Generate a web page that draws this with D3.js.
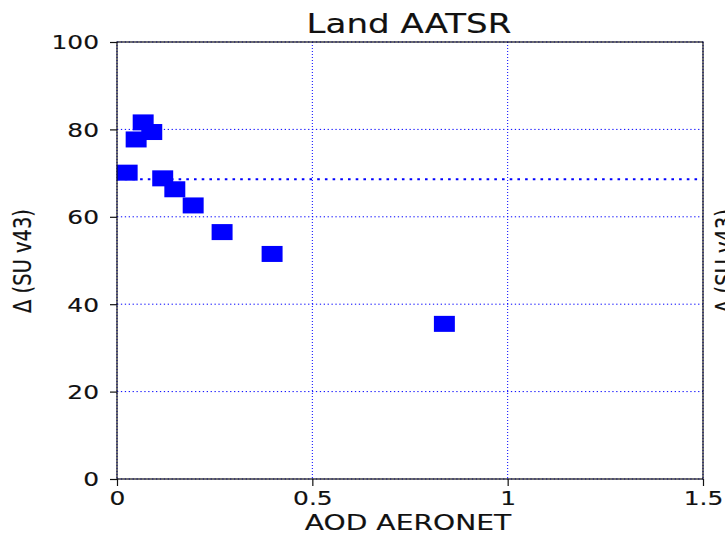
<!DOCTYPE html>
<html>
<head>
<meta charset="utf-8">
<script src="https://cdn.jsdelivr.net/npm/d3@7"></script>
<style>
  html, body { margin: 0; padding: 0; background: #fff; }
  svg { display: block; }
  text { font-family: "DejaVu Sans", sans-serif; fill: #111; stroke: #111; stroke-width: 0.15px; }
</style>
</head>
<body>
<svg id="chart" width="725" height="534"></svg>
<script>
// AOD from AERONET and the corresponding Δ values (SU v43)
const aod   = [0.026, 0.049, 0.067, 0.089, 0.117, 0.148, 0.195, 0.269, 0.397, 0.838];
const delta = [70.1, 77.7, 81.6, 79.4, 68.8, 66.3, 62.6, 56.5, 51.5, 35.5];
// Horizontal reference level
const refLevel = 68.6;
// Axis ticks
const xTicks = [0, 0.5, 1, 1.5];
const xTickLabels = ["0", "0.5", "1", "1.5"];
const yTicks = [0, 20, 40, 60, 80, 100];
const yTickLabels = ["0", "20", "40", "60", "80", "100"];

const title = "Land AATSR";
const xLabel = "AOD AERONET";
const yLabel = "Δ (SU v43)";

// Horizontal stretch applied to glyphs and markers
const SX = 1.31;

const svg = d3.select("#chart");
const plotL = 117, plotR = 703, plotT = 42, plotB = 479;

const x = d3.scaleLinear().domain([0, 1.5]).range([plotL, plotR]);
const y = d3.scaleLinear().domain([0, 100]).range([plotB, plotT]);

// Grid lines
const grid = svg.append("g");
grid.selectAll("line.gx").data(xTicks).join("line")
  .attr("x1", d => x(d)).attr("x2", d => x(d))
  .attr("y1", plotT).attr("y2", plotB)
  .attr("stroke", "#0000ff").attr("stroke-width", 1)
  .attr("stroke-dasharray", "1,2");
grid.selectAll("line.gy").data(yTicks).join("line")
  .attr("x1", plotL).attr("x2", plotR)
  .attr("y1", d => y(d)).attr("y2", d => y(d))
  .attr("stroke", "#0000ff").attr("stroke-width", 1)
  .attr("stroke-dasharray", "1.3,2.6");

// Reference level
svg.append("line")
  .attr("x1", plotL).attr("x2", plotR)
  .attr("y1", y(refLevel)).attr("y2", y(refLevel))
  .attr("stroke", "#0000ff").attr("stroke-width", 2)
  .attr("stroke-dasharray", "2.6,5.1");

// Square markers
const mw = 16 * SX, mh = 16;
svg.append("g").selectAll("rect").data(aod.map((a, i) => [a, delta[i]])).join("rect")
  .attr("x", d => x(d[0]) - mw / 2)
  .attr("y", d => y(d[1]) - mh / 2)
  .attr("width", mw).attr("height", mh)
  .attr("fill", "#0000ff");

// Axes
const xAxis = d3.axisBottom(x).tickValues(xTicks)
  .tickFormat((d, i) => xTickLabels[i]).tickSize(7).tickSizeOuter(0).tickPadding(0);
const yAxis = d3.axisLeft(y).tickValues(yTicks)
  .tickFormat((d, i) => yTickLabels[i]).tickSize(7).tickSizeOuter(0).tickPadding(0);

const gx = svg.append("g").attr("transform", `translate(0,${plotB})`).call(xAxis);
const gy = svg.append("g").attr("transform", `translate(${plotL},0)`).call(yAxis);
[gx, gy].forEach(g => {
  g.select(".domain").remove();
  g.selectAll(".tick line").attr("stroke", "#111").attr("stroke-width", 1.2);
  g.selectAll(".tick text").attr("font-size", 19).attr("fill", "#111")
    .style("font-family", "'DejaVu Sans', sans-serif");
});
gx.selectAll(".tick text").attr("y", 26).attr("dy", 0)
  .attr("transform", `scale(${SX},1)`);
gy.selectAll(".tick text").attr("x", -18 / SX).attr("dy", "0.36em")
  .attr("transform", `scale(${SX},1)`);

// Frame
svg.append("rect")
  .attr("x", plotL).attr("y", plotT)
  .attr("width", plotR - plotL).attr("height", plotB - plotT)
  .attr("fill", "none").attr("stroke", "#111").attr("stroke-width", 1.2);

// Title and axis labels
svg.append("text")
  .attr("transform", `translate(${(plotL + plotR) / 2 - 1},33) scale(${SX},1)`)
  .attr("text-anchor", "middle").attr("font-size", 26).text(title);

svg.append("text")
  .attr("transform", `translate(${(plotL + plotR) / 2 - 2},530) scale(${SX},1)`)
  .attr("text-anchor", "middle").attr("font-size", 21.5).text(xLabel);

svg.append("text")
  .attr("transform", `translate(31,261) rotate(-90) scale(1,${SX})`)
  .attr("text-anchor", "middle").attr("font-size", 19.5).text(yLabel);

// Label of the neighbouring panel, cut off by the right edge
svg.append("text")
  .attr("transform", `translate(${31 + 702},261) rotate(-90) scale(1,${SX})`)
  .attr("text-anchor", "middle").attr("font-size", 19.5).text(yLabel);
</script>
</body>
</html>
